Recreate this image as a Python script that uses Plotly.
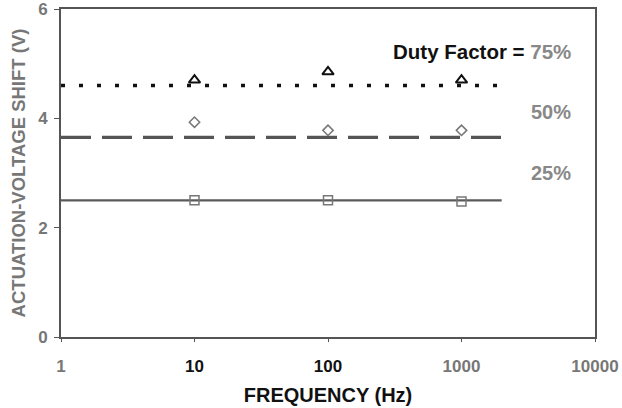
import plotly.graph_objects as go

freq = [10, 100, 1000]
shift_75 = [4.70, 4.85, 4.70]
shift_50 = [3.93, 3.78, 3.78]
shift_25 = [2.50, 2.50, 2.48]

line_x = [1, 2000]
level_75 = 4.6
level_50 = 3.65
level_25 = 2.5

x_ticks = [1, 10, 100, 1000, 10000]
x_tick_colors = ["#777777", "#111111", "#111111", "#777777", "#777777"]
y_ticks = [0, 2, 4, 6]

FONT = "Liberation Sans, Arial"

fig = go.Figure()

fig.add_trace(go.Scatter(x=line_x, y=[level_75, level_75], mode="lines",
                         line=dict(color="#111111", width=3.5, dash="4px,14px"),
                         hoverinfo="skip"))
fig.add_trace(go.Scatter(x=line_x, y=[level_50, level_50], mode="lines",
                         line=dict(color="#555555", width=3.2, dash="30px,11px"),
                         hoverinfo="skip"))
fig.add_trace(go.Scatter(x=line_x, y=[level_25, level_25], mode="lines",
                         line=dict(color="#5a5a5a", width=2.4),
                         hoverinfo="skip"))

fig.add_trace(go.Scatter(x=freq, y=shift_75, mode="markers",
                         marker=dict(symbol="triangle-up-open", size=10, color="#111111",
                                     line=dict(width=2, color="#111111"))))
fig.add_trace(go.Scatter(x=freq, y=shift_50, mode="markers",
                         marker=dict(symbol="diamond-open", size=8, color="#777777",
                                     line=dict(width=1.5, color="#777777"))))
fig.add_trace(go.Scatter(x=freq, y=shift_25, mode="markers",
                         marker=dict(symbol="square-open", size=9, color="#777777",
                                     line=dict(width=1.5, color="#777777"))))

fig.add_annotation(x=0.958, xref="paper", y=5.23, yref="y",
                   xanchor="right", yanchor="middle", showarrow=False,
                   text="<b>Duty Factor = </b><b><span style='color:#888888'>75%</span></b>",
                   font=dict(family=FONT, size=20.5, color="#111111"))
fig.add_annotation(x=0.958, xref="paper", y=4.12, yref="y",
                   xanchor="right", yanchor="middle", showarrow=False,
                   text="<b>50%</b>",
                   font=dict(family=FONT, size=20, color="#888888"))
fig.add_annotation(x=0.958, xref="paper", y=3.0, yref="y",
                   xanchor="right", yanchor="middle", showarrow=False,
                   text="<b>25%</b>",
                   font=dict(family=FONT, size=20, color="#888888"))

fig.update_layout(
    width=622, height=408,
    margin=dict(l=61, r=27, t=9, b=71),
    paper_bgcolor="white", plot_bgcolor="white",
    showlegend=False,
    font=dict(family=FONT, color="#111111"),
    xaxis=dict(type="log", range=[0, 4], tickvals=x_ticks,
               ticktext=["<b><span style='color:%s'>%d</span></b>" % (c, v)
                         for v, c in zip(x_ticks, x_tick_colors)],
               tickfont=dict(size=17, color="#222222"),
               automargin=False, ticklabelstandoff=10,
               showgrid=False, zeroline=False,
               showline=True, linecolor="#555555", linewidth=2, mirror=True,
               ticks="outside", ticklen=3, tickcolor="#555555",
               title=dict(text="<b>FREQUENCY (Hz)</b>", font=dict(size=20, color="#111111"),
                          standoff=13)),
    yaxis=dict(range=[0, 6], tickvals=y_ticks,
               ticktext=["<b>%d</b>" % v for v in y_ticks],
               tickfont=dict(size=17, color="#777777"),
               automargin=False, ticklabelstandoff=3, ticklabeloverflow="allow",
               showgrid=False, zeroline=False,
               showline=True, linecolor="#555555", linewidth=2, mirror=True,
               ticks="outside", ticklen=5, tickcolor="#555555",
               title=dict(text="<b>ACTUATION-VOLTAGE SHIFT (V)</b>",
                          font=dict(size=18.5, color="#777777"), standoff=8)),
)

fig.write_html("out.html")
